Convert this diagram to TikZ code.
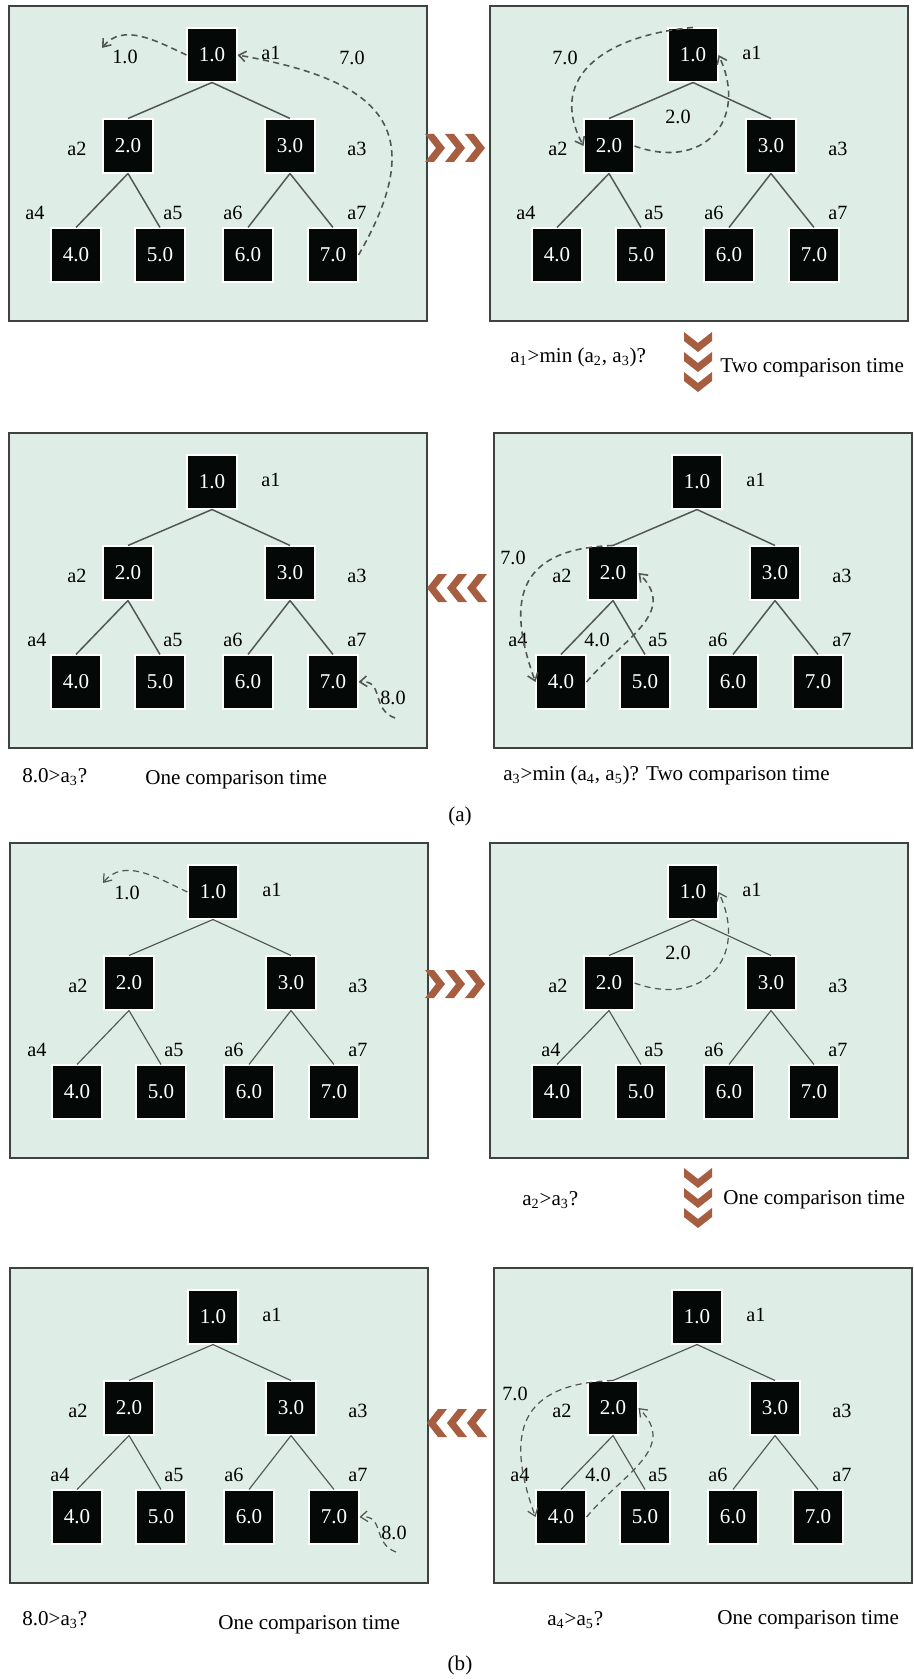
\documentclass[tikz,border=0pt]{standalone}
\usepackage{fontspec}
\setmainfont{Liberation Serif}
\usetikzlibrary{arrows.meta}
\definecolor{panelfill}{RGB}{222,238,230}
\definecolor{panelline}{RGB}{62,66,64}
\definecolor{keyfill}{RGB}{4,8,6}
\definecolor{linkgray}{RGB}{82,86,84}
\definecolor{rust}{RGB}{166,93,64}

% one heap snapshot: #1,#2 = top left corner, #3 = name prefix, #4 = x of the a4 tag
\newcommand{\heappanel}[4]{%
  \begin{scope}[shift={(#1,#2)}]
    \draw[panel] (0,0) rectangle (418,315);
    \node[key] (#3-1) at (203,49) {1.0};
    \node[key] (#3-2) at (119,140) {2.0};
    \node[key] (#3-3) at (281,140) {3.0};
    \node[key] (#3-4) at (67,249) {4.0};
    \node[key] (#3-5) at (151,249) {5.0};
    \node[key] (#3-6) at (239,249) {6.0};
    \node[key] (#3-7) at (324,249) {7.0};
    \foreach \kid/\mom in {2/1,3/1,4/2,5/2,6/3,7/3}
      \draw[link] (#3-\mom.south) -- (#3-\kid.north);
    \foreach \i/\px/\py in {1/262/47,2/68/143,3/348/143,5/164/207,6/224/207,7/348/207}
      \node[tag] (#3-a\i) at (\px,\py) {a\i};
    \node[tag] (#3-a4) at (#4,207) {a4};
  \end{scope}}

\begin{document}
\begin{tikzpicture}[
    x=0.02cm, y=-0.02cm,
    panel/.style={draw=panelline, fill=panelfill, line width=1.1pt},
    key/.style={rectangle, fill=keyfill, draw=white, line width=0.6pt, minimum width=1cm, minimum height=1.08cm, inner sep=0pt, text=white, font=\fontsize{12}{14}\selectfont},
    tag/.style={font=\fontsize{11.5}{13}\selectfont, inner sep=0pt},
    link/.style={draw=linkgray, line width=0.85pt},
    flow/.style={draw=linkgray, line width=0.9pt, dash pattern=on 3.5pt off 2.5pt, -{Straight Barb[length=4pt,width=6pt]}},
    note/.style={font=\fontsize{12}{14}\selectfont, inner sep=0pt, anchor=west},
    chevs/.pic={
      \foreach \k in {0,1,2}
        \fill[rust] ({\k*20},-14) -- ({\k*20+9},-14) -- ({\k*20+20},0) -- ({\k*20+9},14) -- ({\k*20},14) -- ({\k*20+11},0) -- cycle;
    }
]
    \fill[white] (0,0) rectangle (913,1679);

    %% (a)
    \heappanel{9}{6}{p1}{26}
    \heappanel{490}{6}{p2}{36}
    \heappanel{9}{433}{p3}{28}
    \heappanel{494}{433}{p4}{24}

    \coordinate (p1-up) at (102,48);
    \draw[flow] (p1-1.west) to[out=155, in=51] (p1-up);
    \node[tag] (p1-v1) at (125,57) {1.0};
    \draw[flow] (p1-7.east) to[out=60, in=-10, looseness=1.6] (p1-1.east);
    \node[tag] (p1-v7) at (352,58) {7.0};

    \draw[flow] (p2-1.north) to[out=185, in=118, looseness=1.3] (p2-2.west);
    \draw[flow] (p2-2.east) to[out=-20, in=-65, looseness=1.5] (p2-1.east);
    \node[tag] (p2-v7) at (565,58) {7.0};
    \node[tag] (p2-v2) at (678,117) {2.0};

    \coordinate (p3-in) at (395,718);
    \draw[flow] (p3-in) to[out=160, in=5, looseness=1.3] (p3-7.east);
    \node[tag] (p3-v8) at (393,698) {8.0};

    \draw[flow] (p4-2.north) to[out=182, in=110, looseness=1.5] (p4-4.west);
    \draw[flow] (p4-4.east) to[out=50, in=-45, looseness=1.2] (p4-2.east);
    \node[tag] (p4-v7) at (513,558) {7.0};
    \node[tag] (p4-v4) at (597,640) {4.0};

    \pic at (425,148) {chevs};
    \pic[rotate=-90] at (698,332) {chevs};
    \pic[rotate=180] at (487,588) {chevs};

    \node[note] (q1) at (510,357) {a\textsubscript{1}>min (a\textsubscript{2}, a\textsubscript{3})?};
    \node[note] (t1) at (720,368) {Two comparison time};
    \node[note] (q2) at (22,777) {8.0>a\textsubscript{3}?};
    \node[note] (t2) at (145,780) {One comparison time};
    \node[note] (q3) at (503,775) {a\textsubscript{3}>min (a\textsubscript{4}, a\textsubscript{5})? Two comparison time};
    \node[note, anchor=center] (capa) at (460,816) {(a)};

    %% (b)
    \begin{scope}[link/.append style={line width=0.65pt}, flow/.append style={line width=0.7pt}]
    \heappanel{10}{843}{p5}{27}
    \heappanel{490}{843}{p6}{61}
    \heappanel{10}{1268}{p7}{50}
    \heappanel{494}{1268}{p8}{26}

    \coordinate (p5-up) at (103,883);
    \draw[flow] (p5-1.west) to[out=155, in=51] (p5-up);
    \node[tag] (p5-v1) at (127,893) {1.0};

    \draw[flow] (p6-2.east) to[out=-20, in=-65, looseness=1.5] (p6-1.east);
    \node[tag] (p6-v2) at (678,953) {2.0};

    \coordinate (p7-in) at (396,1552);
    \draw[flow] (p7-in) to[out=160, in=5, looseness=1.3] (p7-7.east);
    \node[tag] (p7-v8) at (394,1533) {8.0};

    \draw[flow] (p8-2.north) to[out=182, in=110, looseness=1.5] (p8-4.west);
    \draw[flow] (p8-4.east) to[out=50, in=-45, looseness=1.2] (p8-2.east);
    \node[tag] (p8-v7) at (515,1394) {7.0};
    \node[tag] (p8-v4) at (598,1475) {4.0};
    \end{scope}

    \pic at (425,984) {chevs};
    \pic[rotate=-90] at (698,1168) {chevs};
    \pic[rotate=180] at (487,1423) {chevs};

    \node[note] (q4) at (522,1200) {a\textsubscript{2}>a\textsubscript{3}?};
    \node[note] (t4) at (723,1200) {One comparison time};
    \node[note] (q5) at (22,1620) {8.0>a\textsubscript{3}?};
    \node[note] (t5) at (218,1625) {One comparison time};
    \node[note] (q6) at (547,1620) {a\textsubscript{4}>a\textsubscript{5}?};
    \node[note] (t6) at (717,1620) {One comparison time};
    \node[note, anchor=center] (capb) at (460,1665) {(b)};
\end{tikzpicture}
\end{document}
